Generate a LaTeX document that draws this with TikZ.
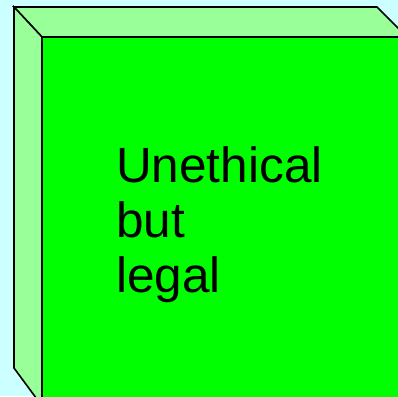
\documentclass[tikz,border=0pt]{standalone}
\usepackage{fontspec}
\setmainfont{Liberation Sans}
\definecolor{bgcyan}{HTML}{CCFFFF}
\definecolor{sidegreen}{HTML}{99FF99}
\definecolor{frontgreen}{HTML}{00FF00}
\begin{document}
\begin{tikzpicture}[x=1pt,y=1pt,
  face/.style={draw=black,line width=1.6pt,line join=miter},
  label/.style={anchor=base west,inner sep=0pt,align=left,font=\fontsize{49.5}{54.5}\selectfont}]
\useasboundingbox (0,0) rectangle (398,396);
\clip (0,0) rectangle (398,396);
\fill[bgcyan] (0,0) rectangle (398,396);
% top face
\filldraw[face,fill=sidegreen] (14,389) -- (377,389) -- (407,359) -- (42,359) -- cycle;
% left face
\filldraw[face,fill=sidegreen] (14,389) -- (42,359) -- (42,-10) -- (14,28) -- cycle;
% front face
\filldraw[face,fill=frontgreen] (42,359) rectangle (420,-20);
\node[label] (txt) at (116,104) {Unethical\\but\\legal};
\end{tikzpicture}
\end{document}
